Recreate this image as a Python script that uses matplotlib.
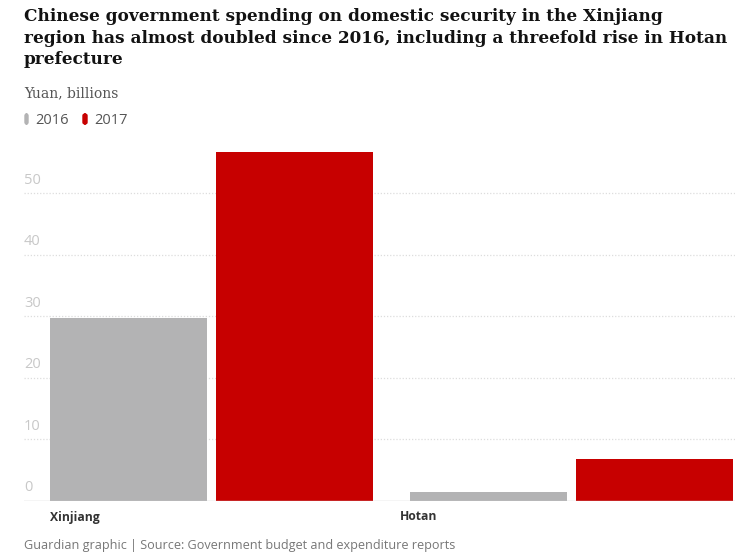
import numpy as np
import matplotlib
matplotlib.use("Agg")
import matplotlib.pyplot as plt
from matplotlib.patches import FancyBboxPatch

regions = ["Xinjiang", "Hotan"]
years = ["2016", "2017"]
spend_2016 = [29.7, 1.5]
spend_2017 = [56.7, 6.8]
yticks = [0, 10, 20, 30, 40, 50]

GREY = "#b3b3b4"
RED = "#c70000"
W, H = 740, 555
LEFT = 24

fig = plt.figure(figsize=(7.4, 5.55), dpi=100, facecolor="white")
ax = fig.add_axes([LEFT / W, 1 - 501 / H, (735 - LEFT) / W, (501 - 152) / H])

x = np.arange(len(regions))
bw = 0.436
off = 0.2306
ax.bar(x - off, spend_2016, width=bw, color=GREY, zorder=2)
ax.bar(x + off, spend_2017, width=bw, color=RED, zorder=2)
ax.set_xlim(-0.522, 1.453)
ax.set_ylim(0, 56.7)

for s in ax.spines.values():
    s.set_visible(False)
ax.axhline(0, color="#cccccc", lw=1, zorder=3)
for t in yticks[1:]:
    ax.axhline(t, color="#dddddd", lw=0.9, ls=(0, (1, 1.5)), zorder=1)
ax.set_xticks([])
ax.set_yticks([])
for t in yticks:
    ax.text(0.0, t + 0.9, str(t), transform=ax.get_yaxis_transform(),
            ha="left", va="bottom", fontsize=10.5, color="#c8c8c8", family="Open Sans")

fig.text(50 / W, 1 - 517 / H, "Xinjiang", fontsize=8.7, fontweight="bold",
         color="#333333", va="center", ha="left", family="Open Sans")
fig.text(400 / W, 1 - 517 / H, "Hotan", fontsize=8.7, fontweight="bold",
         color="#333333", va="center", ha="left", family="Open Sans")

title = ("Chinese government spending on domestic security in the Xinjiang\n"
         "region has almost doubled since 2016, including a threefold rise in Hotan\n"
         "prefecture")
fig.text(LEFT / W, 1 - 8 / H, title, fontsize=12.2, fontweight="bold", color="#121212",
         va="top", ha="left", family="DejaVu Serif", linespacing=1.36)
fig.text(LEFT / W, 1 - 93 / H, "Yuan, billions", fontsize=10, color="#555555",
         va="center", ha="left", family="DejaVu Serif")

for xpos, col, lab, tx in [(25, GREY, "2016", 35), (83, RED, "2017", 94)]:
    mw = 3 if col == GREY else 4
    fig.patches.append(FancyBboxPatch((xpos / W, 1 - 124 / H), mw / W, 10 / H,
                                      boxstyle="round,pad=0,rounding_size=0.003",
                                      transform=fig.transFigure, color=col))
    fig.text(tx / W, 1 - 120 / H, lab, fontsize=10.5, color="#555555",
             va="center", ha="left", family="Open Sans")

fig.text(LEFT / W, 1 - 546 / H,
         "Guardian graphic | Source: Government budget and expenditure reports",
         fontsize=9.1, color="#777777", va="center", ha="left", family="Open Sans")

fig.savefig("out.png", dpi=100, facecolor="white")
